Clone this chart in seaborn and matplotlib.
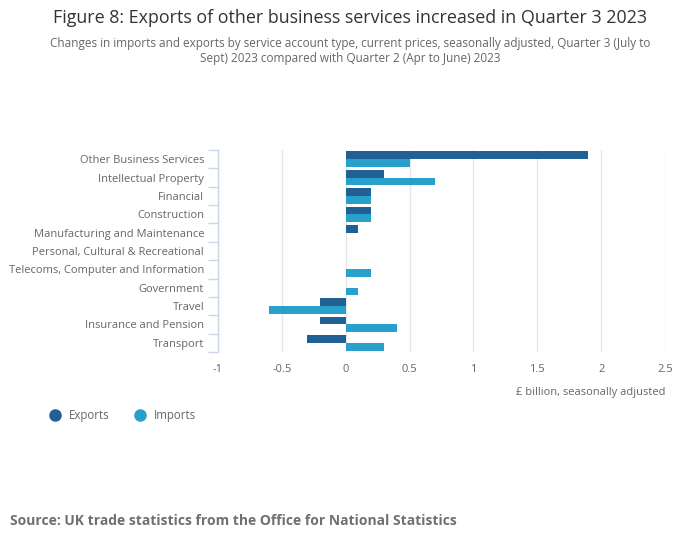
import matplotlib
matplotlib.use("Agg")
import matplotlib.pyplot as plt
import seaborn as sns
import pandas as pd
from matplotlib.lines import Line2D
from matplotlib.ticker import FixedLocator

categories = [
    "Other Business Services",
    "Intellectual Property",
    "Financial",
    "Construction",
    "Manufacturing and Maintenance",
    "Personal, Cultural & Recreational",
    "Telecoms, Computer and Information",
    "Government",
    "Travel",
    "Insurance and Pension",
    "Transport",
]
exports = [1.9, 0.3, 0.2, 0.2, 0.1, 0.0, 0.0, 0.0, -0.2, -0.2, -0.3]
imports = [0.5, 0.7, 0.2, 0.2, 0.0, 0.0, 0.2, 0.1, -0.6, 0.4, 0.3]
series = ["Exports", "Imports"]
colors = ["#206095", "#27a0cc"]

df = pd.DataFrame({
    "category": categories * 2,
    "value": exports + imports,
    "series": [series[0]] * len(categories) + [series[1]] * len(categories),
})

sns.set_theme(style="white")
plt.rcParams["font.family"] = ["Open Sans", "DejaVu Sans"]

fig = plt.figure(figsize=(7, 5.49), dpi=100)
ax = fig.add_axes([218 / 700, 1 - 352 / 549, 447 / 700, 202 / 549])

sns.barplot(data=df, y="category", x="value", hue="series", order=categories,
            hue_order=series, palette=colors, orient="h", width=0.84,
            saturation=1, ax=ax, legend=False, edgecolor="none", linewidth=0)

ax.set_xlim(-1, 2.5)
ax.set_ylim(len(categories) - 0.5, -0.5)
ax.set_xticks([-1, -0.5, 0, 0.5, 1, 1.5, 2, 2.5])
ax.set_xticklabels(["-1", "-0.5", "0", "0.5", "1", "1.5", "2", "2.5"])
ax.grid(axis="x", color="#e6e6e6", linewidth=1)
ax.set_axisbelow(True)
ax.set_xlabel("")
ax.set_ylabel("")

for s in ["top", "right", "bottom"]:
    ax.spines[s].set_visible(False)
ax.spines["left"].set_color("#ccd6eb")
ax.spines["left"].set_linewidth(1)

ax.tick_params(axis="x", length=0, labelsize=8, labelcolor="#666666", pad=9)
ax.tick_params(axis="y", which="major", length=0, labelsize=8, labelcolor="#666666", pad=10)
ax.yaxis.set_minor_locator(FixedLocator([i - 0.5 for i in range(len(categories) + 1)]))
ax.tick_params(axis="y", which="minor", length=7.5, width=1, color="#ccd6eb", left=True)

ax.text(1.0, -0.2, "£ billion, seasonally adjusted", transform=ax.transAxes,
        ha="right", va="center", fontsize=8, color="#666666")

fig.text(0.5, 1 - 18 / 549, "Figure 8: Exports of other business services increased in Quarter 3 2023",
         ha="center", va="center", fontsize=12.9, color="#333333")
fig.text(0.5, 1 - 51 / 549,
         "Changes in imports and exports by service account type, current prices, seasonally adjusted, Quarter 3 (July to\nSept) 2023 compared with Quarter 2 (Apr to June) 2023",
         ha="center", va="center", fontsize=8.45, color="#666666", linespacing=1.25)

handles = [Line2D([], [], marker="o", linestyle="none", markersize=8,
                  markerfacecolor=c, markeredgecolor=c) for c in colors]
fig.legend(handles, series, loc="center left", bbox_to_anchor=(38 / 700, 1 - 416 / 549),
           frameon=False, ncol=2, fontsize=8.3, labelcolor="#666666",
           handletextpad=0.6, columnspacing=2.0, handlelength=1.2)

fig.text(10 / 700, 1 - 521 / 549, "Source: UK trade statistics from the Office for National Statistics",
         ha="left", va="center", fontsize=10, fontweight="bold", color="#707070")

fig.savefig("out.png", dpi=100, facecolor="white")
